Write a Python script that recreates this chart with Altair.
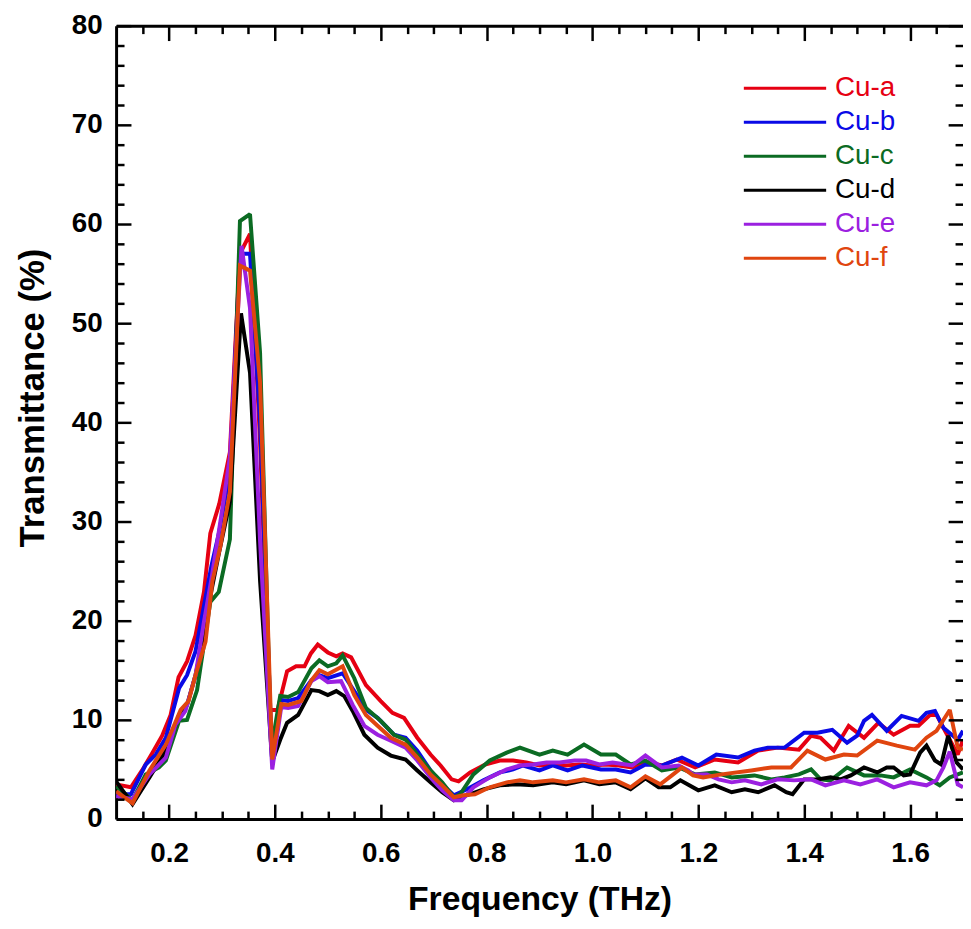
import altair as alt
import pandas as pd

FONT = "Liberation Sans, Arial, sans-serif"

series_names = ["Cu-a", "Cu-b", "Cu-c", "Cu-d", "Cu-e", "Cu-f"]
series_colors = ["#e60012", "#0a0ae6", "#0b6b23", "#000000", "#9b20e0", "#e0450f"]

freq_a = [0.100,0.128,0.149,0.169,0.187,0.203,0.218,0.234,0.250,0.266,0.278,0.295,0.315,0.334,0.353,0.372,0.390,0.405,0.423,0.440,0.456,0.468,0.481,0.500,0.516,0.528,0.544,0.572,0.600,0.622,0.644,0.669,0.694,0.713,0.734,0.747,0.769,0.797,0.825,0.850,0.875,0.900,0.925,0.950,0.975,1.000,1.025,1.050,1.075,1.100,1.131,1.159,1.194,1.231,1.275,1.313,1.350,1.390,1.413,1.431,1.456,1.484,1.513,1.540,1.569,1.600,1.616,1.638,1.650,1.675,1.690,1.700]
trans_a = [3.5,3.2,4.9,6.7,8.4,10.5,14.3,15.9,18.5,22.9,28.8,31.8,37.0,57.0,59.0,38.0,11.0,11.0,14.9,15.4,15.4,16.7,17.6,16.8,16.4,16.7,16.3,13.5,11.9,10.7,10.2,8.2,6.5,5.4,4.0,3.8,4.7,5.5,5.9,5.9,5.7,5.4,5.5,5.4,5.5,5.4,5.5,5.4,5.2,5.8,5.4,6.0,5.2,6.0,5.7,6.9,7.2,7.0,8.4,8.2,6.9,9.4,8.2,9.7,8.5,9.4,9.4,10.5,10.5,8.0,6.5,8.0]

freq_b = [0.100,0.128,0.156,0.175,0.194,0.219,0.234,0.250,0.266,0.280,0.295,0.315,0.334,0.353,0.372,0.395,0.412,0.425,0.444,0.469,0.484,0.500,0.528,0.550,0.575,0.594,0.625,0.647,0.669,0.694,0.716,0.738,0.763,0.794,0.825,0.850,0.869,0.900,0.925,0.953,0.981,1.016,1.044,1.072,1.100,1.131,1.169,1.200,1.234,1.275,1.306,1.331,1.363,1.400,1.425,1.453,1.481,1.500,1.513,1.528,1.556,1.584,1.616,1.631,1.647,1.663,1.690,1.700]
trans_b = [2.5,2.5,5.5,6.5,8.2,13.2,14.5,16.9,21.5,25.5,29.0,35.0,57.0,57.0,40.0,5.5,12.0,11.9,12.2,14.0,14.5,14.2,14.7,12.9,10.9,10.2,8.5,8.2,6.9,4.9,3.5,2.4,3.0,3.9,4.7,5.0,5.4,4.9,5.4,4.9,5.4,5.0,5.0,4.7,5.5,5.4,6.2,5.4,6.5,6.2,6.9,7.2,7.2,8.7,8.7,9.0,7.7,8.4,9.9,10.5,8.9,10.4,9.9,10.7,10.9,9.2,8.0,8.9]

freq_c = [0.100,0.131,0.156,0.181,0.194,0.219,0.234,0.253,0.278,0.294,0.315,0.334,0.353,0.372,0.393,0.410,0.425,0.444,0.469,0.484,0.500,0.516,0.528,0.550,0.572,0.600,0.625,0.647,0.669,0.694,0.716,0.738,0.750,0.775,0.806,0.838,0.863,0.900,0.925,0.953,0.984,1.016,1.044,1.072,1.100,1.131,1.163,1.194,1.231,1.263,1.306,1.338,1.363,1.390,1.413,1.431,1.450,1.481,1.513,1.544,1.569,1.600,1.631,1.656,1.675,1.700]
trans_c = [3.3,1.9,4.5,5.2,5.9,9.9,10.0,13.0,21.9,22.9,28.2,60.3,61.0,47.0,7.0,12.4,12.3,12.8,15.2,16.0,15.4,15.7,16.5,14.2,11.2,9.9,8.5,8.0,6.5,4.9,3.7,2.2,2.5,4.5,5.9,6.7,7.2,6.5,6.9,6.5,7.5,6.5,6.5,5.5,5.9,4.9,5.2,4.5,4.7,4.2,4.4,4.0,4.2,4.5,5.0,4.0,3.9,5.2,4.4,4.4,4.2,5.0,4.2,3.4,4.2,4.7]

freq_d = [0.100,0.131,0.163,0.194,0.219,0.234,0.250,0.266,0.280,0.295,0.315,0.336,0.353,0.372,0.395,0.410,0.423,0.444,0.469,0.484,0.500,0.516,0.531,0.547,0.569,0.594,0.619,0.647,0.669,0.694,0.716,0.738,0.763,0.794,0.825,0.856,0.888,0.925,0.950,0.984,1.013,1.044,1.072,1.100,1.125,1.147,1.166,1.200,1.231,1.263,1.288,1.313,1.344,1.366,1.378,1.400,1.425,1.450,1.469,1.488,1.513,1.538,1.556,1.569,1.588,1.600,1.619,1.631,1.647,1.659,1.672,1.688,1.700]
trans_d = [3.8,1.5,4.2,6.9,10.5,11.5,14.5,18.5,23.0,27.0,32.0,51.0,45.0,24.0,5.8,8.0,9.7,10.5,13.0,12.9,12.5,12.9,12.4,10.9,8.5,7.2,6.4,6.0,4.9,3.7,2.7,1.9,2.4,3.0,3.4,3.5,3.4,3.7,3.5,3.9,3.5,3.7,3.0,4.1,3.2,3.2,3.9,2.9,3.4,2.7,3.0,2.7,3.4,2.7,2.5,4.0,4.0,4.2,4.0,4.4,5.2,4.7,5.2,5.2,4.4,4.5,6.7,7.4,5.9,5.5,8.4,5.7,5.0]

freq_e = [0.100,0.131,0.163,0.194,0.212,0.231,0.250,0.266,0.281,0.297,0.315,0.337,0.353,0.372,0.395,0.412,0.425,0.444,0.469,0.484,0.500,0.525,0.547,0.569,0.594,0.619,0.647,0.669,0.694,0.716,0.738,0.753,0.775,0.806,0.838,0.863,0.888,0.913,0.938,0.966,0.988,1.013,1.038,1.063,1.075,1.100,1.131,1.163,1.181,1.190,1.216,1.238,1.263,1.288,1.319,1.350,1.381,1.413,1.440,1.475,1.506,1.538,1.569,1.600,1.631,1.650,1.663,1.675,1.690,1.700]
trans_e = [2.3,2.0,4.5,6.2,9.5,10.9,14.5,19.9,24.5,30.0,36.5,57.8,51.5,28.0,5.0,11.3,11.2,11.4,13.9,14.4,13.8,13.9,11.5,9.4,8.5,7.9,7.2,5.9,4.2,2.9,1.9,1.9,3.2,4.2,5.0,5.4,5.5,5.7,5.7,5.9,5.9,5.5,5.7,5.5,5.4,6.4,5.2,5.4,4.9,4.5,4.5,4.0,3.7,3.9,3.5,4.0,3.9,4.0,3.4,3.9,3.5,4.0,3.2,3.7,3.4,3.9,5.2,6.8,3.5,3.2]

freq_f = [0.100,0.131,0.163,0.194,0.222,0.237,0.250,0.269,0.282,0.297,0.315,0.334,0.353,0.372,0.395,0.412,0.425,0.450,0.469,0.484,0.500,0.528,0.550,0.572,0.594,0.619,0.647,0.669,0.694,0.716,0.738,0.756,0.778,0.806,0.838,0.863,0.888,0.925,0.950,0.984,1.013,1.044,1.072,1.100,1.128,1.150,1.169,1.190,1.209,1.244,1.300,1.338,1.375,1.406,1.440,1.475,1.500,1.538,1.575,1.609,1.631,1.650,1.675,1.690,1.700]
trans_f = [2.8,1.6,4.9,7.5,11.0,11.9,14.5,17.9,24.0,27.5,33.0,55.8,55.3,44.0,6.0,11.6,11.5,11.9,14.0,15.0,14.6,15.4,12.5,10.5,9.4,8.2,7.5,6.2,4.5,3.4,2.2,2.4,2.5,3.2,3.7,3.9,3.7,3.9,3.7,4.0,3.7,3.9,3.2,4.3,3.5,4.4,5.2,4.4,4.2,4.5,4.9,5.2,5.2,6.9,6.0,6.5,6.4,7.9,7.4,7.0,8.2,8.9,11.0,7.2,7.0]

x_major = [0.2, 0.4, 0.6, 0.8, 1.0, 1.2, 1.4, 1.6]
x_minor = [0.15, 0.25, 0.3, 0.35, 0.45, 0.5, 0.55, 0.65, 0.7, 0.75, 0.85, 0.9, 0.95,
           1.05, 1.1, 1.15, 1.25, 1.3, 1.35, 1.45, 1.5, 1.55, 1.65]
y_major = [0, 10, 20, 30, 40, 50, 60, 70, 80]
y_minor = [2, 4, 6, 8, 12, 14, 16, 18, 22, 24, 26, 28, 32, 34, 36, 38, 42, 44, 46, 48,
           52, 54, 56, 58, 62, 64, 66, 68, 72, 74, 76, 78]

series_data = [(freq_a, trans_a), (freq_b, trans_b), (freq_c, trans_c),
               (freq_d, trans_d), (freq_e, trans_e), (freq_f, trans_f)]

x_scale = alt.Scale(domain=[0.1, 1.7], nice=False, zero=False)
y_scale = alt.Scale(domain=[0, 80], nice=False, zero=False)
color_scale = alt.Scale(domain=series_names, range=series_colors)

main_x_axis = alt.Axis(
    orient="bottom", values=x_major, format=".1f", labelFont=FONT, labelFontSize=28,
    labelFontWeight="bold", labelColor="black", labelPadding=21, labelFlush=False,
    ticks=False, tickSize=0, domain=True, domainColor="black", domainWidth=3, grid=False,
    title="Frequency (THz)", titleFont=FONT, titleFontSize=34, titleFontWeight="bold",
    titleColor="black", titlePadding=15)
main_y_axis = alt.Axis(
    orient="left", values=y_major, format="d", labelFont=FONT, labelFontSize=28,
    labelFontWeight="bold", labelColor="black", labelPadding=14, labelFlush=False,
    ticks=False, tickSize=0, domain=True, domainColor="black", domainWidth=3, grid=False,
    title="Transmittance (%)", titleFont=FONT, titleFontSize=35, titleFontWeight="bold",
    titleColor="black", titleAngle=270, titleAlign="center", titleBaseline="bottom",
    titleX=-66, titleY=375)

layers = []
for i, (name, (fr, tr)) in enumerate(zip(series_names, series_data)):
    n = min(len(fr), len(tr))
    df = pd.DataFrame({"f": fr[:n], "t": tr[:n], "series": name})
    layers.append(
        alt.Chart(df).mark_line(strokeWidth=4, clip=True, strokeJoin="miter", strokeMiterLimit=2).encode(
            x=alt.X("f:Q", scale=x_scale, axis=main_x_axis if i == 0 else None),
            y=alt.Y("t:Q", scale=y_scale, axis=main_y_axis if i == 0 else None),
            color=alt.Color("series:N", scale=color_scale, legend=None),
        )
    )

dummy = pd.DataFrame({"f": [0.5], "t": [10.0]})


def tick_layer(x_orient, y_orient, x_vals, y_vals, size):
    common = dict(labels=False, domain=False, grid=False, ticks=True, tickSize=size,
                  tickWidth=2.5, tickColor="black", offset=-size, title=None, zindex=2)
    return alt.Chart(dummy).mark_point(opacity=0).encode(
        x=alt.X("f:Q", scale=x_scale, axis=alt.Axis(orient=x_orient, values=x_vals, **common)),
        y=alt.Y("t:Q", scale=y_scale, axis=alt.Axis(orient=y_orient, values=y_vals, **common)),
    )


layers.append(tick_layer("bottom", "left", x_major, y_major, 15))
layers.append(tick_layer("bottom", "left", x_minor, y_minor, 8))
layers.append(tick_layer("top", "right", x_major, y_major, 15))
layers.append(tick_layer("top", "right", x_minor, y_minor, 8))

# top frame line (no right frame line is visible in the reference)
layers.append(
    alt.Chart(dummy).mark_point(opacity=0).encode(
        x=alt.X("f:Q", scale=x_scale, axis=alt.Axis(
            orient="top", labels=False, ticks=False, grid=False, domain=True,
            domainColor="black", domainWidth=3, title=None, zindex=2)),
        y=alt.Y("t:Q", scale=y_scale, axis=None),
    )
)

legend_top, legend_step = 63, 34.3
legend_df = pd.DataFrame({
    "series": series_names,
    "ly": [legend_top + legend_step * i for i in range(len(series_names))],
})
layers.append(
    alt.Chart(legend_df).mark_rule(strokeWidth=3).encode(
        x=alt.value(633), x2=alt.value(716),
        y=alt.Y("ly:Q", scale=None),
        color=alt.Color("series:N", scale=color_scale, legend=None),
    )
)
layers.append(
    alt.Chart(legend_df).mark_text(align="left", baseline="middle", fontSize=28, font=FONT).encode(
        x=alt.value(725),
        y=alt.Y("ly:Q", scale=None),
        text="series:N",
        color=alt.Color("series:N", scale=color_scale, legend=None),
    )
)

chart = (
    alt.layer(*layers)
    .resolve_axis(x="independent", y="independent")
    .properties(
        width=854, height=800,
        padding={"left": 109, "top": 14, "right": 0, "bottom": 100},
        autosize=alt.AutoSizeParams(type="none"),
        background="white",
    )
    .configure_view(strokeWidth=0)
)

chart.save("out.html", embed_options={"renderer": "svg", "actions": False})
